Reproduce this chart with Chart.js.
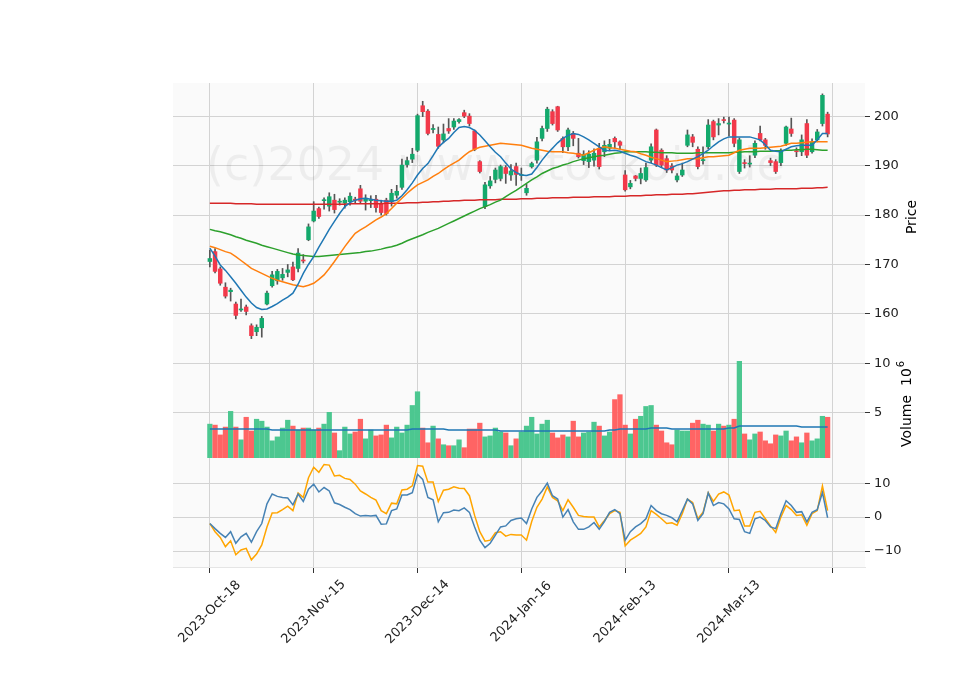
<!DOCTYPE html>
<html><head><meta charset="utf-8">
<script src="https://cdn.jsdelivr.net/npm/chart.js@4/dist/chart.umd.min.js"></script>
<style>html,body{margin:0;padding:0;background:#fff}#w{width:960px;height:690px}</style>
</head><body><div id="w"><canvas id="c" width="960" height="690"></canvas></div>
<script>
const tickLabels = ['2023-Oct-18','2023-Nov-15','2023-Dec-14','2024-Jan-16','2024-Feb-13','2024-Mar-13',''];
const opens = [170.6,172.6,169.1,165.4,164.5,162.0,160.8,161.4,157.6,156.4,157.2,162.0,165.7,166.7,167.3,168.4,169.5,169.2,170.9,175.0,
178.8,181.3,182.9,181.8,183.0,182.6,182.4,182.7,183.1,185.3,182.8,182.9,183.2,182.4,183.0,182.7,184.0,185.6,190.2,191.3,
193.1,202.1,201.0,197.3,196.3,195.2,197.5,197.8,198.9,200.7,200.0,197.0,190.8,181.7,185.9,187.2,187.4,189.6,188.1,189.8,
188.0,184.5,189.8,191.1,195.5,197.5,200.9,201.9,195.5,193.8,196.5,192.5,191.0,190.8,191.1,193.5,192.8,193.5,195.5,194.8,
188.1,185.7,187.9,187.4,187.1,191.1,197.2,193.1,191.4,189.9,187.1,188.1,194.1,195.8,193.3,191.0,193.8,198.9,198.2,199.3,
198.4,199.2,188.8,190.5,190.3,192.1,196.5,195.2,191.0,190.8,190.6,194.5,197.4,193.0,192.8,198.5,192.8,195.2,198.5,200.4];
const closes = [171.2,168.6,166.2,163.6,164.8,159.7,160.9,160.5,155.6,157.3,159.1,164.2,167.9,168.6,168.0,168.9,166.9,172.3,170.7,177.6,
180.8,179.7,183.0,183.7,181.1,182.7,183.0,183.8,183.0,182.8,183.4,183.1,181.5,180.5,180.3,184.4,184.8,190.1,191.0,192.3,
200.1,200.9,196.5,197.4,193.9,196.4,197.0,199.0,199.3,200.0,198.5,193.3,188.8,186.1,186.9,189.1,189.8,188.4,188.9,188.2,
188.1,185.4,190.4,194.8,197.5,201.4,198.5,197.2,193.8,197.2,195.5,191.8,192.3,192.3,192.5,189.8,194.1,194.3,194.8,194.1,
185.1,186.4,187.4,188.4,189.6,193.8,190.1,190.1,189.1,189.1,187.9,189.1,196.2,194.7,189.8,191.2,198.2,195.8,198.5,199.1,
198.6,194.5,195.2,190.4,190.5,194.5,195.2,194.1,190.6,188.8,193.1,197.8,196.5,192.8,195.2,192.1,194.8,196.8,204.2,196.4];
const highs = [172.9,173.2,169.5,166.3,165.2,162.4,163.0,161.8,158.0,157.8,159.5,164.6,168.6,169.0,169.2,170.0,170.5,173.2,172.0,178.2,
182.7,181.6,183.5,184.5,184.2,183.3,183.5,184.5,183.6,186.0,184.1,183.9,184.0,183.0,183.4,185.2,186.0,191.3,191.7,193.5,
200.4,203.0,201.3,198.3,197.8,198.4,199.5,199.5,199.5,201.2,200.5,197.2,191.0,186.6,187.8,189.5,190.1,190.0,190.2,190.5,
189.5,186.2,190.7,195.7,198.0,201.8,201.3,202.0,195.8,197.6,196.9,195.5,193.0,193.0,193.4,194.5,195.0,195.3,195.8,195.0,
189.0,187.0,188.0,189.5,190.5,194.4,197.4,193.4,192.0,190.4,188.4,190.5,197.2,196.3,193.8,193.8,199.3,199.2,199.5,199.8,
199.8,199.5,195.6,191.2,192.0,195.0,198.0,195.5,191.5,191.2,193.4,198.0,199.6,193.6,196.2,199.3,195.4,197.3,204.5,200.8];
const lows = [169.5,168.3,165.8,163.2,162.6,159.0,160.5,159.8,155.0,155.6,155.3,161.8,165.4,166.0,166.8,167.5,166.7,168.5,170.3,174.8,
178.6,179.3,181.2,180.8,180.4,182.0,181.4,182.0,182.3,182.3,181.0,181.5,180.6,180.0,180.0,181.8,183.4,185.2,189.7,190.6,
192.8,199.9,196.2,196.6,193.5,194.6,196.5,197.3,198.6,199.7,198.0,193.0,188.5,181.3,185.4,186.5,186.9,186.4,187.0,186.0,
187.0,184.0,189.5,190.5,195.0,196.9,198.2,196.9,192.6,193.0,194.0,191.5,190.2,189.6,189.9,189.3,191.8,193.0,193.5,193.4,
184.8,185.3,186.9,186.3,186.8,190.6,189.8,189.6,188.6,188.5,186.7,187.8,193.8,193.8,189.3,190.3,193.4,195.2,196.2,198.6,
196.0,193.8,188.4,189.5,189.7,191.6,195.0,193.3,190.0,188.4,190.0,194.1,195.9,191.8,192.0,191.6,192.5,194.8,198.0,195.8];
const volumes = [3.8,3.7,2.7,3.5,5.1,3.5,2.2,4.5,3.1,4.3,4.1,3.5,2.1,2.5,3.4,4.2,3.6,3.2,3.4,3.4,
3.2,3.4,3.8,5.0,2.9,1.1,3.5,2.8,3.0,4.3,2.3,3.2,2.6,2.7,3.7,2.4,3.5,2.9,3.7,5.7,
7.1,3.4,1.9,3.6,2.3,1.7,1.6,1.6,2.2,1.4,3.3,3.3,3.9,2.5,2.6,3.4,3.0,2.9,1.6,2.3,
3.0,3.6,4.5,2.8,3.8,4.2,2.9,2.4,2.7,2.5,4.1,2.5,2.9,3.0,4.0,3.6,2.6,3.0,6.3,6.8,
3.7,2.8,4.3,4.6,5.6,5.7,3.7,3.1,1.9,1.7,3.2,3.1,3.1,3.9,4.2,3.8,3.7,3.1,3.8,3.6,
3.7,4.3,10.2,2.8,2.2,2.8,3.0,2.1,1.8,2.7,2.6,3.1,2.1,2.5,1.9,2.9,2.1,2.3,4.6,4.5];
const volAvg = [3.3,3.3,3.3,3.3,3.3,3.3,3.3,3.3,3.3,3.3,3.3,3.3,3.2,3.2,3.2,3.2,3.2,3.2,3.2,3.2,
3.2,3.2,3.2,3.2,3.2,3.2,3.2,3.2,3.2,3.2,3.2,3.2,3.2,3.2,3.2,3.2,3.2,3.2,3.2,3.3,
3.3,3.3,3.3,3.3,3.3,3.3,3.2,3.2,3.2,3.2,3.2,3.2,3.2,3.2,3.2,3.2,3.1,3.1,3.1,3.1,
3.1,3.1,3.1,3.1,3.1,3.1,3.1,3.1,3.1,3.1,3.1,3.1,3.1,3.1,3.1,3.1,3.1,3.2,3.2,3.3,
3.3,3.3,3.3,3.3,3.3,3.4,3.4,3.4,3.4,3.3,3.3,3.3,3.3,3.3,3.3,3.3,3.3,3.3,3.3,3.3,
3.4,3.4,3.6,3.6,3.6,3.6,3.6,3.6,3.6,3.6,3.6,3.6,3.6,3.6,3.5,3.5,3.5,3.5,3.5,3.5];
const maShort = [173.3,171.7,169.9,168.8,167.5,166.2,164.8,163.4,162.2,161.3,160.9,161.0,161.5,162.1,162.8,163.4,164.2,166.0,168.2,170.0,
171.6,173.5,175.3,177.1,178.7,180.3,181.7,182.5,183.0,183.3,183.4,183.2,183.0,182.9,182.8,182.8,183.0,183.9,185.1,186.5,
188.1,189.4,190.4,192.0,193.7,194.7,195.5,196.7,197.7,197.9,197.7,197.1,196.2,195.0,193.8,192.7,191.8,190.5,189.3,188.6,
188.1,188.0,188.3,189.6,191.1,192.4,193.5,194.6,195.5,196.1,196.5,196.3,195.8,195.2,194.5,193.8,193.1,193.0,193.1,192.9,
192.5,192.1,191.8,191.3,190.8,190.5,190.1,189.6,189.1,189.6,190.1,190.4,190.8,191.3,191.8,192.4,193.1,194.0,194.8,195.4,
195.8,195.8,195.8,195.8,195.8,195.5,195.2,194.2,193.1,192.9,192.8,193.3,193.8,194.0,194.1,194.1,194.1,195.2,196.5,196.5];
const maMid = [173.7,173.4,173.0,172.6,172.3,171.6,170.8,170.0,169.2,168.7,168.2,167.7,167.2,166.8,166.5,166.2,165.9,165.7,165.5,165.8,
166.2,167.0,167.9,169.2,170.6,172.1,173.6,175.0,176.3,177.0,177.6,178.3,179.0,179.6,180.3,181.3,182.4,183.4,184.4,185.3,
186.1,186.6,187.1,187.8,188.4,189.2,189.9,190.5,191.1,192.0,192.8,193.3,193.7,193.9,194.1,194.3,194.5,194.4,194.3,194.2,
194.1,193.8,193.5,193.3,193.1,192.9,192.8,192.8,192.8,192.6,192.5,192.3,192.1,192.6,193.1,193.5,193.8,193.6,193.5,193.3,
193.1,192.9,192.8,192.4,192.1,191.7,191.4,191.1,190.8,190.9,191.0,191.2,191.4,191.4,191.4,191.6,191.8,191.8,191.9,192.0,
192.1,192.6,193.1,193.3,193.5,193.5,193.5,193.6,193.7,193.8,193.9,194.2,194.5,194.5,194.6,194.7,194.8,194.8,194.8,194.8];
const maLong = [177.1,176.8,176.6,176.3,176.0,175.6,175.3,174.9,174.6,174.3,173.9,173.6,173.3,173.0,172.7,172.4,172.1,171.9,171.8,171.7,
171.6,171.6,171.7,171.8,171.9,172.0,172.1,172.2,172.3,172.4,172.6,172.7,172.9,173.1,173.4,173.6,173.9,174.3,174.8,175.2,
175.6,176.0,176.5,176.9,177.3,177.8,178.3,178.8,179.3,179.8,180.3,180.8,181.3,181.7,182.1,182.6,183.0,183.7,184.4,185.0,
185.7,186.4,187.1,187.7,188.4,188.9,189.4,189.7,190.1,190.4,190.8,191.1,191.4,191.6,191.8,192.0,192.1,192.3,192.5,192.6,
192.8,192.8,192.8,192.8,192.8,192.7,192.7,192.6,192.6,192.6,192.5,192.5,192.5,192.5,192.6,192.6,192.6,192.6,192.6,192.6,
192.6,192.7,192.7,192.8,192.8,192.8,192.9,192.9,192.9,193.0,193.0,193.1,193.1,193.2,193.2,193.3,193.3,193.2,193.1,193.1];
const ma200 = [182.4,182.4,182.4,182.4,182.4,182.3,182.3,182.3,182.3,182.2,182.2,182.2,182.2,182.2,182.2,182.2,182.2,182.2,182.2,182.2,
182.2,182.2,182.2,182.2,182.2,182.2,182.2,182.3,182.3,182.3,182.3,182.3,182.3,182.3,182.4,182.4,182.4,182.4,182.5,182.5,
182.5,182.6,182.6,182.7,182.7,182.8,182.8,182.9,182.9,183.0,183.0,183.0,183.1,183.1,183.1,183.1,183.2,183.2,183.2,183.2,
183.3,183.3,183.3,183.4,183.4,183.4,183.5,183.5,183.5,183.5,183.6,183.6,183.6,183.6,183.7,183.7,183.7,183.7,183.8,183.8,
183.8,183.9,183.9,183.9,184.0,184.0,184.1,184.1,184.1,184.2,184.2,184.2,184.3,184.3,184.4,184.5,184.6,184.7,184.8,184.9,
184.9,185.0,185.0,185.1,185.1,185.1,185.2,185.2,185.2,185.3,185.3,185.3,185.3,185.3,185.4,185.4,185.4,185.5,185.5,185.6];
const oscA = [-1.9,-3.4,-4.8,-6.0,-4.3,-7.7,-5.8,-4.8,-7.4,-4.3,-1.9,3.9,6.8,6.1,5.8,5.6,3.6,6.8,4.6,8.2,
9.7,7.4,8.7,7.7,4.2,3.7,2.9,2.2,1.0,0.3,0.5,0.3,0.5,-2.1,-2.0,1.9,2.4,6.5,6.5,7.2,
12.6,11.1,5.8,5.1,-1.4,1.3,1.4,2.1,1.9,2.7,1.4,-2.9,-6.8,-9.0,-7.7,-5.3,-2.9,-2.6,-1.0,-0.5,
-0.3,-1.9,2.4,5.8,7.7,10.0,6.3,5.3,0.0,2.2,-1.4,-3.6,-3.6,-2.9,-1.6,-3.6,-1.3,1.4,2.2,1.0,
-6.8,-4.3,-2.9,-1.9,-0.5,3.4,1.9,1.0,0.5,-0.2,-1.4,1.9,5.3,3.9,-1.0,1.0,7.1,3.4,4.3,3.9,
2.4,-0.5,-0.7,-4.3,-4.8,-0.5,0.0,-1.0,-2.9,-3.4,1.0,4.8,3.4,1.4,1.6,-1.4,1.4,2.2,7.2,-0.2];
const oscB = [-1.9,-4.3,-6.0,-8.7,-7.0,-11.1,-9.7,-9.2,-12.6,-10.9,-8.2,-2.9,1.2,1.3,2.2,3.2,1.9,7.1,5.8,11.6,
14.7,13.2,15.5,15.3,12.1,12.3,11.4,11.1,9.7,7.7,6.8,5.8,5.0,1.9,1.0,4.1,3.9,8.0,8.2,9.2,
15.2,15.0,10.3,10.3,4.6,7.9,8.2,8.9,8.5,8.4,6.3,0.5,-4.3,-7.1,-6.8,-4.6,-4.3,-5.6,-5.1,-5.3,
-5.3,-6.8,-1.3,2.9,5.3,8.9,5.8,4.8,1.9,5.1,2.9,0.5,0.2,0.0,0.0,-2.9,-1.0,1.0,1.9,1.4,
-8.5,-6.8,-5.8,-4.8,-2.9,1.9,0.8,-0.5,-1.9,-1.7,-2.4,1.0,5.3,4.3,-0.5,1.4,7.2,4.6,6.8,7.4,
6.5,1.9,2.1,-2.6,-2.6,1.4,1.7,-0.5,-2.6,-4.5,0.0,3.4,2.2,0.5,0.7,-2.4,1.0,1.9,9.2,1.9];

const idx = closes.map((_, i) => i);
const up = idx.map(i => closes[i] >= opens[i]);
const pts = arr => arr.map((v, i) => ({x: i, y: v}));
const line = (arr, color, axis, w) => ({type: 'line', data: pts(arr), borderColor: color, borderWidth: w || 1.5, pointRadius: 0, yAxisID: axis, tension: 0, order: 0});

const bgPlugin = {
  id: 'bg',
  beforeDraw(chart) {
    const {ctx, chartArea: a} = chart;
    ctx.save(); ctx.fillStyle = '#fafafa';
    ctx.fillRect(a.left, a.top, a.right - a.left, a.bottom - a.top);
    ctx.restore();
  },
  beforeDatasetsDraw(chart) {
    const {ctx} = chart;
    ctx.save(); ctx.font = '46px "DejaVu Sans"'; ctx.fillStyle = 'rgba(0,0,0,0.05)';
    ctx.textBaseline = 'alphabetic'; ctx.fillText('(c)2024 www.stockoid.de', 206, 180); ctx.restore();
  },
  afterDraw(chart) {
    const {ctx} = chart;
    const xs = chart.scales.x;
    tickLabels.forEach((t, k) => {
      if (!t) return;
      ctx.save(); ctx.fillStyle = '#222'; ctx.font = '13px "DejaVu Sans"'; ctx.textAlign = 'center'; ctx.textBaseline = 'middle';
      ctx.translate(xs.getPixelForValue(k * 20), 612); ctx.rotate(-Math.PI / 4); ctx.fillText(t, 0, 0); ctx.restore();
    });
    ctx.save(); ctx.fillStyle = '#000'; ctx.font = '14px "DejaVu Sans"'; ctx.textAlign = 'center'; ctx.textBaseline = 'middle';
    ctx.translate(912, 217); ctx.rotate(-Math.PI / 2); ctx.fillText('Price', 0, 0); ctx.restore();
    ctx.save(); ctx.fillStyle = '#000'; ctx.font = '14px "DejaVu Sans"'; ctx.textBaseline = 'middle';
    ctx.translate(907, 447); ctx.rotate(-Math.PI / 2);
    ctx.textAlign = 'left'; ctx.fillText('Volume  10', 0, 0);
    const w = ctx.measureText('Volume  10').width;
    ctx.font = '10px "DejaVu Sans"'; ctx.fillText('6', w + 1, -6);
    ctx.restore();
  }
};

const grid = {color: '#d3d3d3', tickLength: 5, drawTicks: true, tickColor: '#333'};
const yTick = {color: '#222', font: {family: 'DejaVu Sans', size: 13}, padding: 4};
const fit = s => { s.width = 60; };

new Chart(document.getElementById('c'), {
  data: {
    datasets: [
      line(maShort, '#1f77b4', 'yP'), line(maMid, '#ff7f0e', 'yP'), line(maLong, '#2ca02c', 'yP'), line(ma200, '#d62728', 'yP'),
      {type: 'bar', data: idx.map(i => ({x: i, y: [lows[i], highs[i]]})), backgroundColor: '#555', barThickness: 1, yAxisID: 'yP', order: 2, grouped: false},
      {type: 'bar', data: idx.map(i => ({x: i, y: [opens[i], closes[i]]})), backgroundColor: idx.map(i => up[i] ? '#13a96c' : '#f2394a'), barThickness: 3.8, minBarLength: 1, yAxisID: 'yP', order: 1, grouped: false},
      {type: 'bar', data: idx.map(i => ({x: i, y: volumes[i]})), backgroundColor: idx.map(i => up[i] ? '#4cc790' : '#ff6464'), barThickness: 4.6, yAxisID: 'yV', order: 1, grouped: false},
      line(volAvg, '#1f77b4', 'yV'),
      line(oscA, '#4682b4', 'yO'), line(oscB, '#ffa500', 'yO')
    ]
  },
  options: {
    responsive: false, animation: false,
    layout: {padding: {left: 173, right: 35, top: 83, bottom: 8}},
    plugins: {legend: {display: false}, tooltip: {enabled: false}},
    scales: {
      x: {type: 'linear', offset: false, min: -7.1, max: 126.2, grid: {color: '#d3d3d3', tickLength: 6, tickColor: '#333', offset: false},
          afterBuildTicks: s => { s.ticks = tickLabels.map((_, k) => ({value: k * 20})); },
          afterFit: s => { s.height = 115; },
          ticks: {autoSkip: false, maxRotation: 0, minRotation: 0, callback: () => ''}},
      yP: {type: 'linear', position: 'right', stack: 's', stackWeight: 268, min: 152.5, max: 206.7, offset: false,
           afterBuildTicks: s => { s.ticks = [160,170,180,190,200].map(v => ({value: v})); }, afterFit: fit, grid, ticks: yTick, border: {display: false}},
      yV: {type: 'linear', position: 'right', stack: 's', stackWeight: 107, min: 0.35, max: 11.25,
           afterBuildTicks: s => { s.ticks = [5,10].map(v => ({value: v})); }, afterFit: fit, grid, ticks: yTick, border: {display: false}},
      yO: {type: 'linear', position: 'right', stack: 's', stackWeight: 109, min: -14.7, max: 17.4,
           afterBuildTicks: s => { s.ticks = [-10,0,10].map(v => ({value: v})); }, afterFit: fit, grid, ticks: {...yTick, callback: v => v < 0 ? '\u2212' + Math.abs(v) : String(v)}, border: {display: false}}
    }
  },
  plugins: [bgPlugin]
});
</script></body></html>
